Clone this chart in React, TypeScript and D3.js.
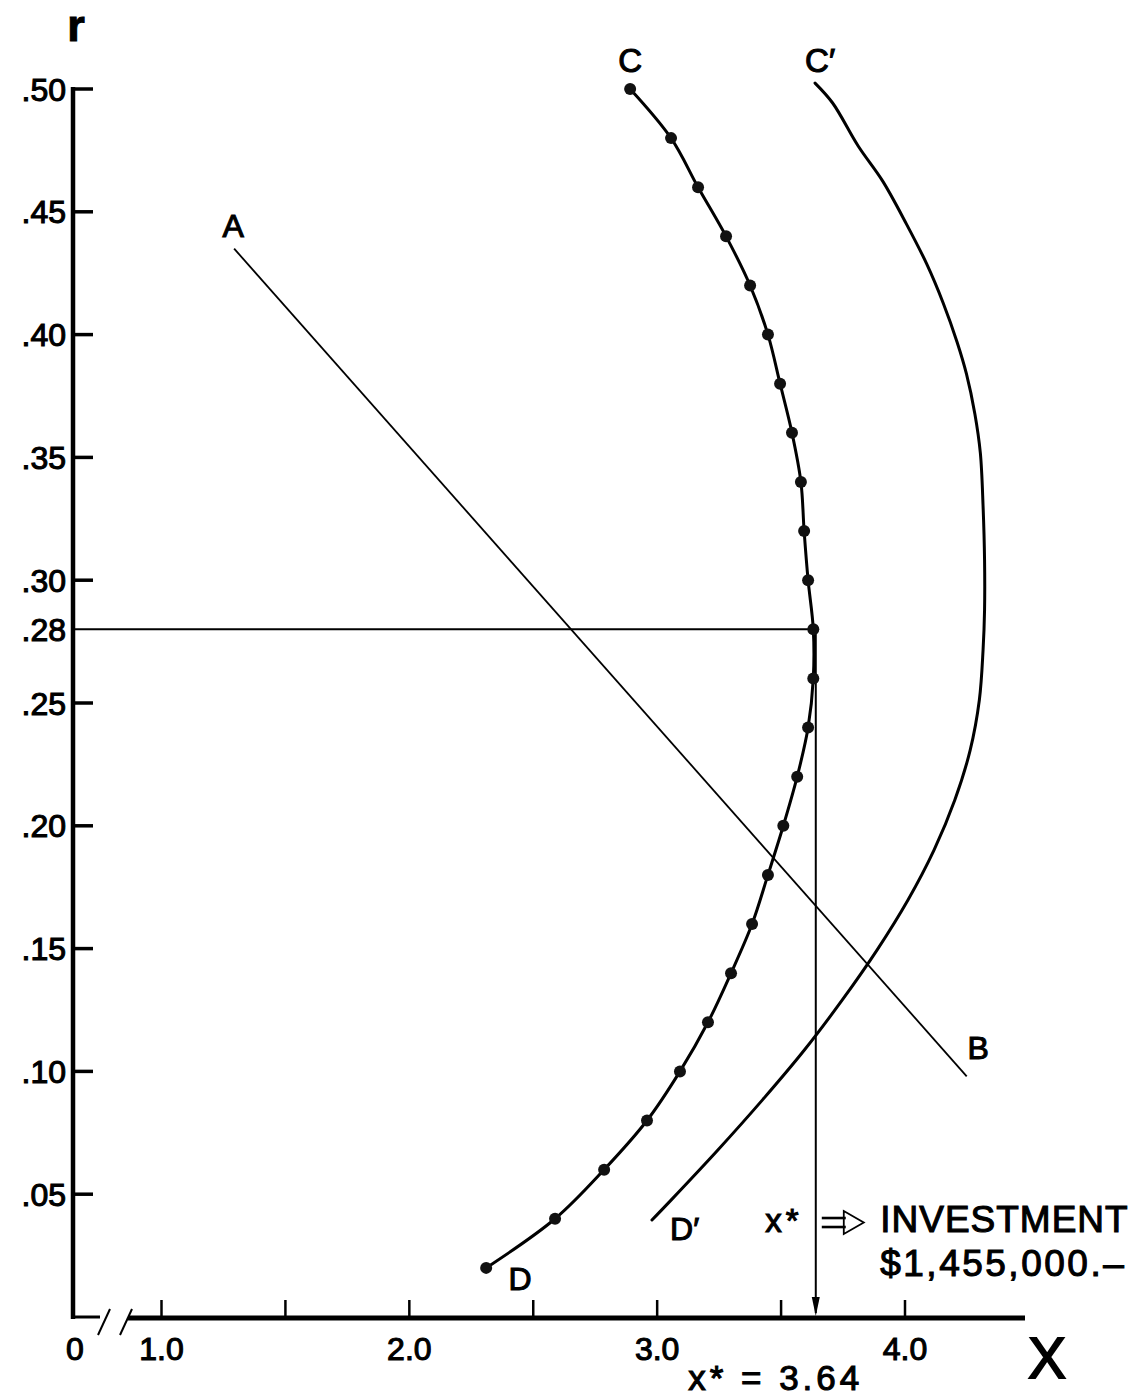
import React from 'react';
import * as d3 from 'd3';

const W = 1136;
const H = 1397;

// Y (r) axis ticks and labels
const rTickMarks = [0.05, 0.10, 0.15, 0.20, 0.25, 0.30, 0.35, 0.40, 0.45, 0.50];
const rLabelValues = [0.05, 0.10, 0.15, 0.20, 0.25, 0.28, 0.30, 0.35, 0.40, 0.45, 0.50];
const rLabelTexts = ['.05', '.10', '.15', '.20', '.25', '.28', '.30', '.35', '.40', '.45', '.50'];

// X axis ticks and labels
const xTickMarks = [1.0, 1.5, 2.0, 2.5, 3.0, 3.5, 4.0];
const xLabelValues = [1.0, 2.0, 3.0, 4.0];
const xLabelTexts = ['1.0', '2.0', '3.0', '4.0'];

// Curve C–D (dotted points)
const cdR = [0.50, 0.48, 0.46, 0.44, 0.42, 0.40, 0.38, 0.36, 0.34, 0.32, 0.30, 0.28, 0.26,
  0.24, 0.22, 0.20, 0.18, 0.16, 0.14, 0.12, 0.10, 0.08, 0.06, 0.04, 0.02];
const cdX = [2.891, 3.056, 3.165, 3.278, 3.375, 3.447, 3.496, 3.544, 3.580, 3.593, 3.609, 3.630, 3.630,
  3.609, 3.565, 3.509, 3.447, 3.383, 3.298, 3.205, 3.092, 2.959, 2.786, 2.588, 2.310];

// Curve C'–D'
const cpX = [3.637, 3.708, 3.811, 3.910, 4.006, 4.088, 4.154, 4.210, 4.248, 4.282, 4.304, 4.315, 4.321,
  4.321, 4.315, 4.300, 4.263, 4.201, 4.117, 4.012, 3.887, 3.747, 3.594, 3.425, 3.245, 3.056, 2.979];
const cpR = [0.5024, 0.4943, 0.4768, 0.4625, 0.4450, 0.4287, 0.4129, 0.3970, 0.3840, 0.3677, 0.3518, 0.3302, 0.3082,
  0.2879, 0.2716, 0.2512, 0.2308, 0.2105, 0.1901, 0.1698, 0.1494, 0.1291, 0.1087, 0.0884, 0.0680, 0.0476, 0.0395];

// Line A–B
const abX = [1.293, 4.249];
const abR = [0.435, 0.098];

// Optimum
const rStar = 0.28;
const xStar = 3.64;

const FONT = "'Liberation Sans', Arial, Helvetica, sans-serif";
const TS = { stroke: '#000', strokeWidth: 1.1 } as const;

export default function App() {
  const x = d3.scaleLinear().domain([1, 4]).range([161.5, 905]);
  const y = d3.scaleLinear().domain([0, 0.5]).range([1317, 89]);
  const x0 = 73; // y-axis position (origin, before the break)
  const y0 = y(0);

  const cdLine = d3.line<[number, number]>()
    .x(d => x(d[0]))
    .y(d => y(d[1]))
    .curve(d3.curveCatmullRom.alpha(0.5));
  const cpLine = d3.line<[number, number]>()
    .x(d => x(d[0]))
    .y(d => y(d[1]))
    .curve(d3.curveCatmullRom.alpha(0.5));

  const cdPts: [number, number][] = cdX.map((v, i) => [v, cdR[i]]);
  const cpPts: [number, number][] = cpX.map((v, i) => [v, cpR[i]]);
  const abPts: [number, number][] = abX.map((v, i) => [v, abR[i]]);
  const straight = d3.line<[number, number]>().x(d => x(d[0])).y(d => y(d[1]));

  const cdStarX = x(cdX[cdR.indexOf(rStar)]);
  const xs = x(xStar);
  const annY = y(0.0346);
  const arX = xs + 4;

  return (
    <svg width={W} height={H} style={{ position: 'absolute', left: 0, top: 0, background: '#fff' }}
      fontFamily={FONT}>
      <rect x={0} y={0} width={W} height={H} fill="#fff" />

      {/* Y axis */}
      <line x1={x0} y1={y(0.5) - 2} x2={x0} y2={y0 + 2} stroke="#000" strokeWidth={4.5} />
      {rTickMarks.map(v => (
        <line key={'rt' + v} x1={x0} x2={x0 + 20} y1={y(v)} y2={y(v)} stroke="#000" strokeWidth={3.5} />
      ))}
      {rLabelValues.map((v, i) => (
        <text key={'rl' + v} x={66} y={y(v) + 11.5} fontSize={32} textAnchor="end" fill="#000" {...TS}>
          {rLabelTexts[i]}
        </text>
      ))}
      <text x={76} y={41} fontSize={45} fontWeight="bold" textAnchor="middle" fill="#000" {...TS}>r</text>

      {/* X axis with break */}
      <line x1={x0 - 2} x2={100} y1={y0} y2={y0} stroke="#000" strokeWidth={3} />
      <line x1={98} y1={y0 + 18} x2={110} y2={y0 - 8} stroke="#000" strokeWidth={2} />
      <line x1={120} y1={y0 + 18} x2={132} y2={y0 - 8} stroke="#000" strokeWidth={2} />
      <line x1={128} x2={1025} y1={y0 + 1} y2={y0 + 1} stroke="#000" strokeWidth={5} />
      {xTickMarks.map(v => (
        <line key={'xt' + v} x1={x(v)} x2={x(v)} y1={y0} y2={y0 - 17} stroke="#000" strokeWidth={2.5} />
      ))}
      {xLabelValues.map((v, i) => (
        <text key={'xl' + v} x={x(v)} y={1360} fontSize={32} textAnchor="middle" fill="#000" {...TS}>
          {xLabelTexts[i]}
        </text>
      ))}
      <text x={x0 + 2} y={1360} fontSize={32} textAnchor="middle" fill="#000" {...TS}>0</text>
      <text x={1047} y={1378} fontSize={57} textAnchor="middle" fill="#000" stroke="#000" strokeWidth={1.8}>X</text>

      {/* A-B line */}
      <path d={straight(abPts) || ''} fill="none" stroke="#000" strokeWidth={1.8} />

      {/* r* horizontal and x* vertical */}
      <line x1={x0} x2={cdStarX} y1={y(rStar)} y2={y(rStar)} stroke="#000" strokeWidth={2} />
      <line x1={xs} x2={xs} y1={y(rStar)} y2={y0 - 4} stroke="#000" strokeWidth={2} />
      <path d={`M${xs - 4},${y0 - 20} L${xs + 4},${y0 - 20} L${xs},${y0 - 1} Z`} fill="#000" />

      {/* C'-D' curve */}
      <path d={cpLine(cpPts) || ''} fill="none" stroke="#000" strokeWidth={3} strokeLinecap="round" />

      {/* C-D curve with points */}
      <path d={cdLine(cdPts) || ''} fill="none" stroke="#000" strokeWidth={3} />
      {cdPts.map((d, i) => (
        <circle key={'cd' + i} cx={x(d[0])} cy={y(d[1])} r={6} fill="#111" />
      ))}

      {/* curve labels */}
      <g fill="#000" {...TS}>
        <text x={x(1.289)} y={y(0.4397)} fontSize={32} textAnchor="middle">A</text>
        <text x={x(4.295)} y={y(0.105)} fontSize={32} textAnchor="middle">B</text>
        <text x={x(2.891)} y={y(0.507)} fontSize={33} textAnchor="middle">C</text>
        <text x={x(3.597)} y={y(0.507)} fontSize={33}>C′</text>
        <text x={x(2.447)} y={y(0.011)} fontSize={32} textAnchor="middle">D</text>
        <text x={x(3.052)} y={y(0.0314)} fontSize={32}>D′</text>

        {/* annotation */}
        <text x={x(3.436)} y={annY} fontSize={33} letterSpacing={4}>x*</text>
        <text x={x(3.90)} y={annY} fontSize={37} letterSpacing={1}>INVESTMENT</text>
        <text x={x(3.90)} y={y(0.0167)} fontSize={37} letterSpacing={2.5}>$1,455,000.–</text>
        <text x={x(3.125)} y={1390} fontSize={35} letterSpacing={4}>x* = 3.64</text>
      </g>

      {/* implication arrow ⇒ */}
      <g stroke="#000" fill="none" strokeWidth={2.6}>
        <line x1={arX + 2} x2={arX + 26} y1={annY - 14} y2={annY - 14} />
        <line x1={arX + 2} x2={arX + 26} y1={annY - 5} y2={annY - 5} />
      </g>
      <path d={`M${arX + 24},${annY - 21} L${arX + 44},${annY - 9.5} L${arX + 24},${annY + 2} Z`}
        fill="none" stroke="#000" strokeWidth={1.8} strokeLinejoin="miter" />
    </svg>
  );
}
